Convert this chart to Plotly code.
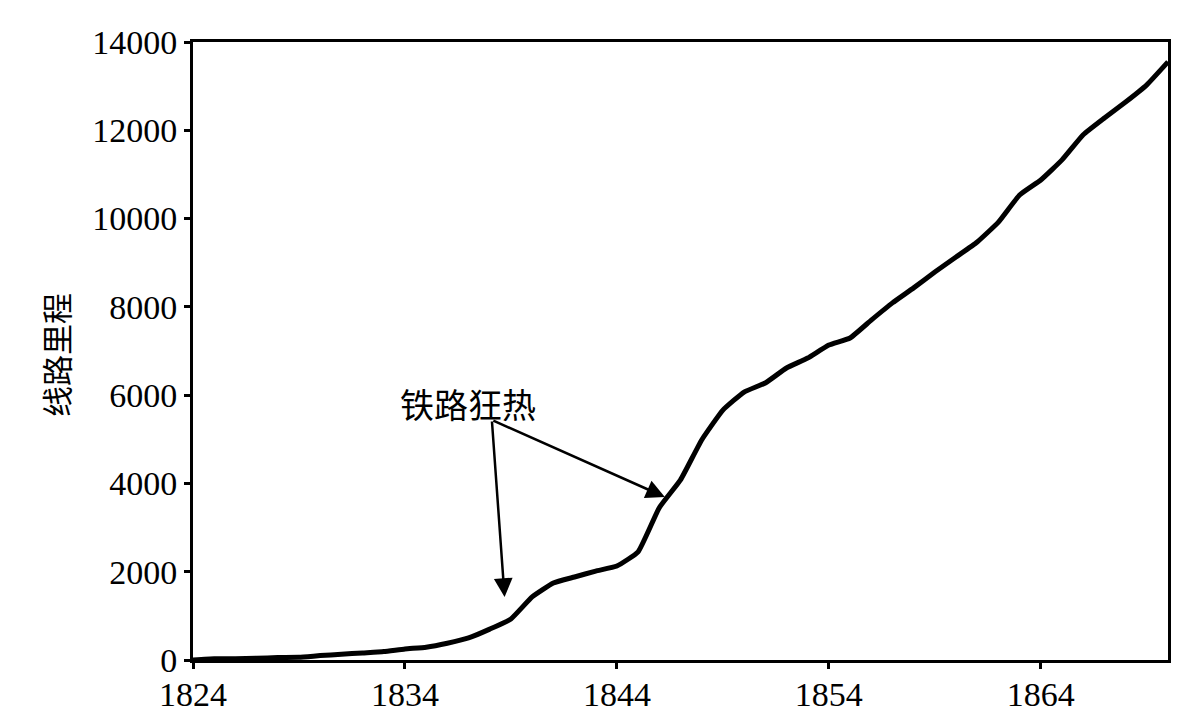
import plotly.graph_objects as go

years = list(range(1824, 1871))
mileage = [0, 27, 30, 40, 55, 60, 100, 130, 160, 190, 250, 290, 380, 500, 700, 930,
           1430, 1745, 1880, 2015, 2130, 2450, 3450, 4080, 4985, 5660, 6070, 6275,
           6615, 6840, 7135, 7295, 7700, 8090, 8430, 8790, 9130, 9470, 9920, 10535,
           10875, 11330, 11900, 12280, 12640, 13030, 13550]

x_ticks = [1824, 1834, 1844, 1854, 1864]
y_ticks = [0, 2000, 4000, 6000, 8000, 10000, 12000, 14000]

y_title = "线路里程"
label_text = "铁路狂热"
label_pos = (1838.1, 5437)
arrow_heads = [(1838.7, 1427), (1846.26, 3693)]

fig = go.Figure()
fig.add_trace(go.Scatter(x=years, y=mileage, mode="lines",
                         line=dict(color="black", width=5, shape="spline", smoothing=0.4),
                         showlegend=False, hoverinfo="x+y"))

for hx, hy in arrow_heads:
    fig.add_annotation(x=hx, y=hy, ax=label_pos[0], ay=label_pos[1],
                       xref="x", yref="y", axref="x", ayref="y",
                       text="", showarrow=True, arrowhead=2, arrowsize=1.5,
                       arrowwidth=2.5, arrowcolor="black")

fig.add_annotation(x=1836.97, y=5822, xref="x", yref="y", text=label_text,
                   showarrow=False,
                   font=dict(family="Noto Sans CJK SC", size=34, color="black"))

# y-axis title, centred at ~55 px from the left edge
fig.add_annotation(x=-(193 - 55) / 975, y=1 - (355 - 42) / 618, xref="paper", yref="paper",
                   text=y_title, textangle=-90, showarrow=False,
                   xanchor="center", yanchor="middle",
                   font=dict(family="Noto Sans CJK SC", size=31, color="black"))

serif = "Liberation Serif"
fig.update_layout(
    width=1196, height=713,
    margin=dict(l=193, r=28, t=42, b=53),
    paper_bgcolor="white", plot_bgcolor="white",
    xaxis=dict(range=[1824, 1870], tickvals=x_ticks, ticktext=[str(v) for v in x_ticks],
               showgrid=False, zeroline=False, showline=True, linecolor="black",
               linewidth=3, mirror=True, ticks="outside", ticklen=6, tickwidth=3,
               tickcolor="black", automargin=False, ticklabelstandoff=-4,
               tickfont=dict(family=serif, size=34, color="black")),
    yaxis=dict(range=[0, 14000], tickvals=y_ticks, ticktext=[str(v) for v in y_ticks],
               showgrid=False, zeroline=False, showline=True, linecolor="black",
               linewidth=3, mirror=True, ticks="outside", ticklen=6, tickwidth=3,
               tickcolor="black", automargin=False,
               tickfont=dict(family=serif, size=34, color="black")),
)

fig.write_html("out.html", config={"displayModeBar": False},
               post_script="document.body.style.margin='0';document.body.style.overflow='hidden';")
